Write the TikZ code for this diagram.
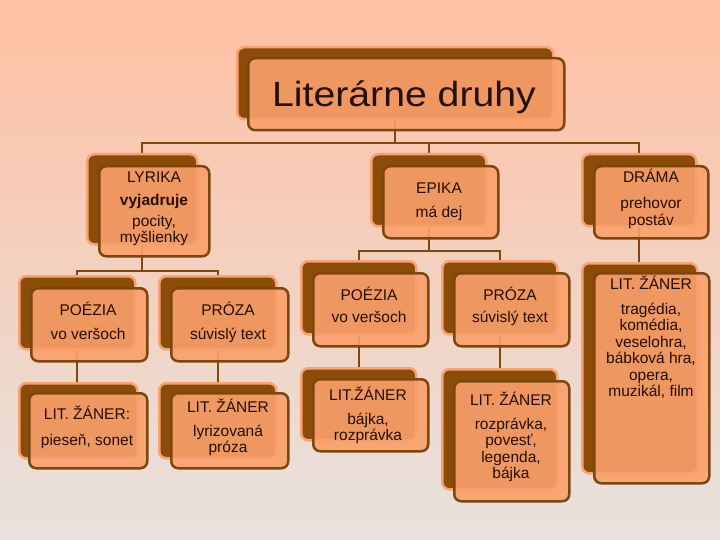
\documentclass[tikz,border=0pt]{standalone}
\usepackage{fontspec}
\setmainfont{Liberation Sans}
\definecolor{bgtop}{RGB}{255,192,162}
\definecolor{bgmid}{RGB}{230,210,198}
\definecolor{bgbot}{RGB}{231,226,222}
\definecolor{backfill}{RGB}{139,76,8}
\definecolor{backline}{RGB}{248,162,115}
\definecolor{frontfill}{RGB}{250,160,106}
\definecolor{frontline}{RGB}{125,70,14}
\definecolor{conn}{RGB}{125,72,18}
\definecolor{ink}{RGB}{35,15,5}
\newcommand{\boxlines}[1]{\begin{tabular}[t]{@{}c@{}}#1\end{tabular}}
\pgfdeclarelayer{paper}
\pgfdeclarelayer{wires}
\pgfsetlayers{paper,wires,main}
\begin{document}
\begin{tikzpicture}[x=1pt,y=-1pt,
  backbox/.style={draw=backline, line width=2.5pt, fill=backfill, rounded corners=7pt, inner sep=0pt, anchor=north west},
  frontbox/.style={draw=frontline, line width=2.5pt, fill=frontfill, fill opacity=0.9, draw opacity=1, rounded corners=7pt, inner sep=0pt, anchor=north west},
  lbl/.style={text=ink, inner sep=0pt, anchor=base, font=\fontsize{15.5}{16.5}\selectfont},
  connector/.style={draw=conn, line width=2.2pt}]
\newcommand{\duo}[7]{%
  \node[backbox, minimum width=#4, minimum height=#5] (#1b) at (#2+#6,#3+#7) {};
  \node[frontbox, minimum width=#4, minimum height=#5] (#1) at (#2,#3) {};}
\begin{pgfonlayer}{paper}
  \shade[top color=bgtop, middle color=bgmid, bottom color=bgbot] (0,0) rectangle (720,540);
\end{pgfonlayer}
\useasboundingbox (0,0) rectangle (720,540);

\duo{title}{247}{57}{316}{72}{-11}{-11}
\duo{lyr}{98}{165}{110}{90}{-12}{-12}
\duo{epi}{382}{165}{115}{72}{-12}{-12}
\duo{dra}{593}{165}{114}{72}{-12}{-12}
\duo{lp}{30}{287}{116}{73}{-12}{-12}
\duo{lpr}{170}{287}{117}{73}{-12}{-12}
\duo{lza}{28}{392}{118}{75}{-10}{-10}
\duo{lzb}{170}{392}{117}{75}{-12}{-10}
\duo{ep}{312}{272}{115}{73}{-12}{-12}
\duo{epr}{453}{272}{115}{73}{-12}{-12}
\duo{eza}{312}{378}{115}{72}{-12}{-11}
\duo{ezb}{453}{380}{115}{120}{-12}{-12}
\duo{dz}{593}{272}{115}{210}{-12}{-10}

\begin{pgfonlayer}{wires}
  \coordinate (busT) at (titleb.center |- 0,143);
  \draw[connector] (titleb.center) -- (busT);
  \draw[connector] (lyrb.center) |- (busT) -| (drab.center);
  \draw[connector] (epib.center) -- (epib.center |- busT);
  \coordinate (busL) at (lyrb.center |- 0,271);
  \draw[connector] (lyrb.center) -- (busL);
  \draw[connector] (lpb.center) |- (busL) -| (lprb.center);
  \draw[connector] (lpb.center) -- (lpb.center |- lzab.center);
  \draw[connector] (lprb.center) -- (lprb.center |- lzbb.center);
  \coordinate (busE) at (epib.center |- 0,251);
  \draw[connector] (epib.center) -- (busE);
  \draw[connector] (epb.center) |- (busE) -| (eprb.center);
  \draw[connector] (epb.center) -- (epb.center |- ezab.center);
  \draw[connector] (eprb.center) -- (eprb.center |- ezbb.center);
  \draw[connector] (drab.center) -- (drab.center |- dzb.center);
\end{pgfonlayer}

\node[lbl, font=\fontsize{35}{40}\selectfont, xscale=1.12] (tTitle) at (404,107) {Literárne druhy};
\node[lbl] (tLyr) at (154,183) {\boxlines{LYRIKA\\[6.5pt] \textbf{vyjadruje}\\[4pt] pocity,\\ myšlienky}};
\node[lbl] (tEpi) at (439,194) {\boxlines{EPIKA\\[7.5pt] má dej}};
\node[lbl] (tDra) at (651,183) {\boxlines{DRÁMA\\[9.5pt] prehovor\\ postáv}};
\node[lbl] (tLp) at (88,315) {\boxlines{POÉZIA\\[7.5pt] vo veršoch}};
\node[lbl] (tLpr) at (228,315) {\boxlines{PRÓZA\\[7.5pt] súvislý text}};
\node[lbl] (tLza) at (87,419) {\boxlines{LIT. ŽÁNER:\\[9.5pt] pieseň, sonet}};
\node[lbl] (tLzb) at (228,412) {\boxlines{LIT. ŽÁNER\\[7.5pt] lyrizovaná\\ próza}};
\node[lbl] (tEp) at (369,300) {\boxlines{POÉZIA\\[5.5pt] vo veršoch}};
\node[lbl] (tEpr) at (510,300) {\boxlines{PRÓZA\\[5.5pt] súvislý text}};
\node[lbl] (tEza) at (368,400) {\boxlines{LIT.ŽÁNER\\[7.5pt] bájka,\\ rozprávka}};
\node[lbl] (tEzb) at (511,405) {\boxlines{LIT. ŽÁNER\\[7.5pt] rozprávka,\\ povesť,\\ legenda,\\ bájka}};
\node[lbl] (tDz) at (651,289) {\boxlines{LIT. ŽÁNER\\[8.5pt] tragédia,\\ komédia,\\ veselohra,\\ bábková hra,\\ opera,\\ muzikál, film}};
\end{tikzpicture}
\end{document}
